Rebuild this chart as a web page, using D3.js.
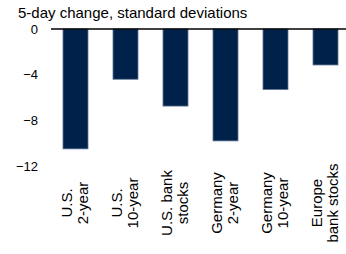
<!DOCTYPE html>
<html>
<head>
<meta charset="utf-8">
<script src="https://cdn.jsdelivr.net/npm/d3@7"></script>
<style>
	body { margin: 0; background: #fff; }
	svg { display: block; font-family: "Liberation Sans", Arial, sans-serif; }
</style>
</head>
<body>
<svg id="chart" width="346" height="254"></svg>
<script>
var aCategories = [['U.S.', '2-year'], ['U.S.', '10-year'], ['U.S. bank', 'stocks'], ['Germany', '2-year'], ['Germany', '10-year'], ['Europe', 'bank stocks']];
var aValues = [-10.5, -4.4, -6.75, -9.8, -5.3, -3.15];
var aTicks = [0, -4, -8, -12];
var strTitle = '5-day change, standard deviations';

var sSvg = d3.select('#chart');

var x = d3.scaleBand()
	.domain(aCategories.map(function(d, i) { return i; }))
	.range([50.5, 350.5])
	.paddingInner(0.5)
	.paddingOuter(0.25);

var y = d3.scaleLinear()
	.domain([-12, 0])
	.range([166, 29]);

sSvg.append('text')
	.attr('x', 18)
	.attr('y', 17.5)
	.style('font-size', '15px')
	.attr('fill', '#000')
	.text(strTitle);

// y axis labels only, no ticks or domain
var sAxis = sSvg.append('g')
	.attr('transform', 'translate(38,0)')
	.call(d3.axisLeft(y).tickValues(aTicks).tickSize(0).tickPadding(0).tickFormat(d3.format('d')));
sAxis.select('.domain').remove();
sAxis.selectAll('text')
	.style('font-size', '13px')
	.style('font-family', '"Liberation Sans", Arial, sans-serif')
	.attr('fill', '#000');

sSvg.selectAll('.bar')
	.data(aValues)
	.enter()
		.append('rect')
		.attr('class', 'bar')
		.attr('x', function(d, i) { return x(i); })
		.attr('y', y(0))
		.attr('width', x.bandwidth())
		.attr('height', function(d) { return y(d) - y(0); })
		.attr('fill', '#00214a')
		.attr('stroke', '#5d7392')
		.attr('stroke-width', 0.8);

sSvg.append('line')
	.attr('x1', 51)
	.attr('x2', 346)
	.attr('y1', y(0))
	.attr('y2', y(0))
	.attr('stroke', '#000')
	.attr('stroke-width', 1.3);

var sLabels = sSvg.selectAll('.xlabel')
	.data(aCategories)
	.enter()
		.append('text')
		.attr('class', 'xlabel')
		.attr('transform', function(d, i) { return 'translate(' + (x(i) + x.bandwidth() / 2) + ',203) rotate(-90)'; })
		.attr('text-anchor', 'middle')
		.style('font-size', '15px')
		.attr('fill', '#000');

sLabels.selectAll('tspan')
	.data(function(d) { return d; })
	.enter()
		.append('tspan')
		.attr('x', 0)
		.attr('y', function(d, i) { return i == 0 ? -3.5 : 12; })
		.text(function(d) { return d; });
</script>
</body>
</html>
